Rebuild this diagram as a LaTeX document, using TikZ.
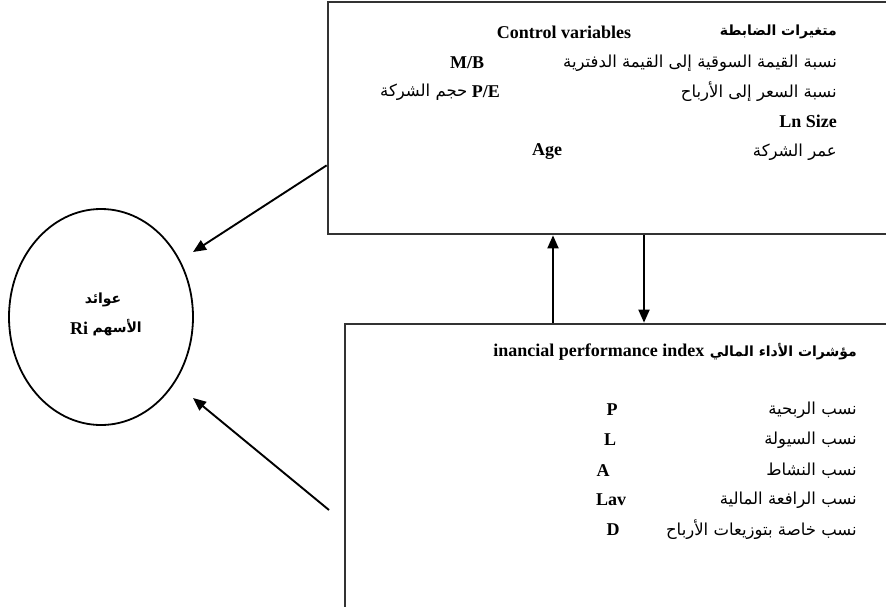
\documentclass[tikz,border=0pt]{standalone}
\usepackage{fontspec}
\setmainfont{Liberation Serif}
\newfontfamily\arabicfont[Script=Arabic]{DejaVu Sans}
\TeXXeTstate=1
\usetikzlibrary{arrows.meta,shapes.geometric}
\tikzset{
  box/.style={draw=black!80, line width=2.7pt, rectangle, inner sep=0pt},
  arr/.style={-{Triangle[length=13pt,width=11pt]}, line width=1.9pt, draw=black},
  lat/.style={font=\bfseries\fontsize{18}{21}\selectfont, inner sep=0pt},
  ar/.style={font=\arabicfont\fontsize{16.5}{19}\selectfont, inner sep=0pt},
  arb/.style={font=\arabicfont\bfseries\fontsize{14}{17}\selectfont, inner sep=0pt},
}
\newcommand{\AR}[1]{\beginR #1\endR}
\begin{document}
\begin{tikzpicture}[x=1pt,y=-1pt]
\useasboundingbox[fill=white] (0,0) rectangle (886,606);
% boxes
\node[box, minimum width=572pt, minimum height=232pt] (top) at (614,118) {};
\node[box, minimum width=560pt, minimum height=292pt] (bot) at (625,470) {};
\node[draw=black, line width=1.8pt, ellipse, minimum width=184pt, minimum height=216pt, inner sep=0pt] (ell) at (101,317) {};
% ellipse text
\node[arb] (e1) at (103,300) {\AR{عوائد}};
\node[arb, anchor=east] (e2a) at (142,328) {\AR{الأسهم}};
\node[lat, anchor=east] (e2b) at ([xshift=-4pt]e2a.west) {Ri};
% top box text
\node[arb, anchor=east] (t1) at (837,32) {\AR{متغيرات الضابطة}};
\node[lat] (t1e) at (564,32) {Control variables};
\node[ar, anchor=east] (t2) at (837,63) {\AR{نسبة القيمة السوقية إلى القيمة الدفترية}};
\node[lat] (t2e) at (467,63) {M/B};
\node[ar, anchor=east] (t3) at (837,92) {\AR{نسبة السعر إلى الأرباح}};
\node[lat, anchor=east] (t3e) at (500,92) {P/E};
\node[ar, anchor=east] (t3f) at ([xshift=-4pt]t3e.west) {\AR{حجم الشركة}};
\node[lat, anchor=east] (t4e) at (837,121) {Ln Size};
\node[ar, anchor=east] (t5) at (837,152) {\AR{عمر الشركة}};
\node[lat] (t5e) at (547,152) {Age};
% bottom box text
\node[arb, anchor=east] (b0) at (857,352) {\AR{مؤشرات الأداء المالي}};
\node[lat, anchor=east] (b0e) at ([xshift=-5pt]b0.west) {inancial performance index};
\node[ar, anchor=east] (b1) at (857,410) {\AR{نسب الربحية}};
\node[lat] (b1e) at (612,410) {P};
\node[ar, anchor=east] (b2) at (857,440) {\AR{نسب السيولة}};
\node[lat] (b2e) at (610,440) {L};
\node[ar, anchor=east] (b3) at (857,471) {\AR{نسب النشاط}};
\node[lat] (b3e) at (603,471) {A};
\node[ar, anchor=east] (b4) at (857,500) {\AR{نسب الرافعة المالية}};
\node[lat] (b4e) at (611,500) {Lav};
\node[ar, anchor=east] (b5) at (857,530) {\AR{نسب خاصة بتوزيعات الأرباح}};
\node[lat] (b5e) at (613,530) {D};
% connectors
\coordinate (tipA) at (193,252);
\coordinate (tipB) at (193,398);
\coordinate (tailB) at (329,510);
\coordinate (ux) at (553,0);
\coordinate (dx) at (644,0);
\draw[arr] ([yshift=70pt]top.south west) -- (tipA);
\draw[arr] (tailB) -- (tipB);
\draw[arr] (bot.north -| ux) -- (top.south -| ux);
\draw[arr] (top.south -| dx) -- (bot.north -| dx);
\end{tikzpicture}
\end{document}
